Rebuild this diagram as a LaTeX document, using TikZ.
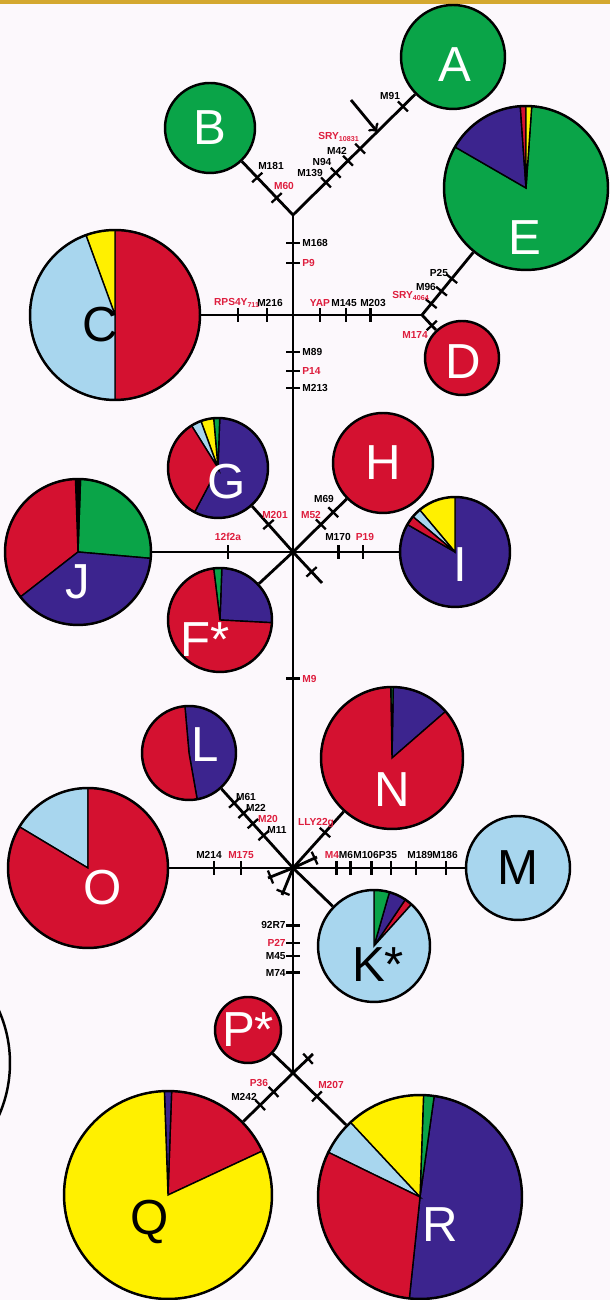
\documentclass[tikz,border=0pt]{standalone}
\usepackage{fontspec}
\setmainfont{Liberation Sans}
\usepackage{xcolor}
\usetikzlibrary{positioning, calc}

\definecolor{hgreen}{RGB}{10,164,72}
\definecolor{hred}{RGB}{212,17,48}
\definecolor{hblue}{RGB}{60,36,142}
\definecolor{hlight}{RGB}{168,214,238}
\definecolor{hyellow}{RGB}{255,240,0}
\definecolor{labred}{RGB}{222,30,62}
\definecolor{paper}{RGB}{252,248,252}
\definecolor{gold}{RGB}{212,168,48}

% pie slices: centre, radius, start/end/colour
\newcommand{\pie}[3]{%
  \foreach \sa/\ea/\cl in {#3}
    \filldraw[fill=\cl, draw=black, line width=0.8pt] (#1) -- ++(\sa:#2)
      arc[start angle=\sa, end angle=\ea, radius=#2] -- cycle;}

\begin{document}
\begin{tikzpicture}[x=0.02cm, y=0.02cm,
    branch/.style={line width=1.6pt},
    hap/.style={circle, draw, line width=1.4pt, inner sep=0pt, minimum size=#1},
    tick/.style={sloped, fill=black, inner sep=0pt, minimum width=1.3pt, minimum height=0.28cm},
    lab/.style={font=\fontsize{5.8}{6}\selectfont\bfseries, inner sep=0pt},
    rlab/.style={lab, text=labred},
    big/.style={font=\fontsize{28}{30}\selectfont, inner sep=0pt}]

  \useasboundingbox (0,0) rectangle (610,1300);
  \clip (0,0) rectangle (610,1300);
  \fill[paper] (0,0) rectangle (610,1300);
  \fill[gold] (0,1296) rectangle (610,1300);

  % haplogroups
  \node[hap=2.08cm, fill=hgreen] (A) at (453,1243) {};
  \node[hap=1.8cm, fill=hgreen] (B) at (210,1172) {};
  \pie{526,1112}{82}{150/446/hgreen, 94/150/hblue, 90/94/hred, 86/90/hyellow}
  \node[hap=3.28cm] (E) at (526,1112) {};
  \pie{115,985}{85}{-90/90/hred, 90/110/hyellow, 110/270/hlight}
  \node[hap=3.4cm] (C) at (115,985) {};
  \node[hap=1.48cm, fill=hred] (D) at (462,942) {};

  \pie{218,832}{50}{-118/88/hblue, 88/95/hgreen, 95/110/hyellow, 110/122/hlight, 122/242/hred}
  \node[hap=2cm] (G) at (218,832) {};
  \node[hap=2cm, fill=hred] (H) at (383,837) {};
  \pie{455,748}{55}{-210/90/hblue, 90/130/hyellow, 130/140/hlight, 140/150/hred}
  \node[hap=2.2cm] (I) at (455,748) {};
  \pie{78,748}{73}{-5/88/hgreen, 88/92/black, 92/218/hred, 218/355/hblue}
  \node[hap=2.92cm] (J) at (78,748) {};
  \pie{220,680}{52}{-3/88/hblue, 88/97/hgreen, 97/357/hred}
  \node[hap=2.08cm] (F) at (220,680) {};

  \pie{189,547}{47}{-80/95/hblue, 95/280/hred}
  \node[hap=1.88cm] (L) at (189,547) {};
  \pie{392,542}{71}{41/89/hblue, 89/91/hgreen, 91/401/hred}
  \node[hap=2.84cm] (N) at (392,542) {};
  \pie{88,432}{80}{90/149/hlight, 149/450/hred}
  \node[hap=3.2cm] (O) at (88,432) {};
  \node[hap=2.08cm, fill=hlight] (M) at (518,432) {};
  \pie{374,354}{56}{48/56/hred, 56/74/hblue, 74/90/hgreen, 90/408/hlight}
  \node[hap=2.24cm] (K) at (374,354) {};

  \node[hap=1.32cm, fill=hred] (P) at (248,270) {};
  \pie{168,105}{104}{25/88/hred, 88/92/hblue, 92/385/hyellow}
  \node[hap=4.16cm] (Q) at (168,105) {};
  \pie{420,103}{102}{-96/82/hblue, 82/88/hgreen, 88/133/hyellow, 133/154/hlight, 154/264/hred}
  \node[hap=4.08cm] (R) at (420,103) {};
  \node[hap=5.2cm] (S) at (-120,237) {};

  % letters
  \node[big, text=white] (At) at (455,1235) {A};
  \node[big, text=white] (Bt) at (210,1172) {B};
  \node[big, text=white] (Et) at (525,1062) {E};
  \node[big] (Ct) at (100,975) {C};
  \node[big, text=white] (Dt) at (463,938) {D};
  \node[big, text=white] (Gt) at (227,818) {G};
  \node[big, text=white] (Ht) at (383,837) {H};
  \node[big, text=white] (It) at (460,735) {I};
  \node[big, text=white] (Jt) at (78,718) {J};
  \node[big, text=white] (Ft) at (205,660) {F*};
  \node[big, text=white] (Lt) at (205,555) {L};
  \node[big, text=white] (Nt) at (392,510) {N};
  \node[big, text=white] (Ot) at (103,412) {O};
  \node[big] (Mt) at (518,432) {M};
  \node[big] (Kt) at (378,335) {K*};
  \node[big, text=white] (Pt) at (248,270) {P*};
  \node[big] (Qt) at (150,78) {Q};
  \node[big, text=white] (Rt) at (440,75) {R};

  % junctions
  \coordinate (jAB) at (293,1085);
  \coordinate (jCD) at (293,985);
  \coordinate (jDE) at (422,985);
  \coordinate (jGH) at (293,748);
  \coordinate (jLN) at (293,432);
  \coordinate (jPQ) at (293,227);
  \coordinate (sGH) at (322,717);
  \coordinate (s1) at (317,443);
  \coordinate (s2) at (268,422);
  \coordinate (s3) at (282,405);
  \coordinate (sPQ) at (313,246);
  \coordinate (arr) at (351,1200);

  % branches
  \draw[branch] (jAB) -- (A) node[tick,pos=.27]{} node[tick,pos=.35]{} node[tick,pos=.45]{}
    node[tick,pos=.55]{} coordinate[pos=.69] (tip) node[tick,pos=.90]{};
  \draw[branch,->] (arr) -- (tip);
  \draw[branch] (jAB) -- (B) node[tick,pos=.32]{} node[tick,pos=.70]{};
  \draw[branch] (jAB) -- (jCD) node[tick,pos=.28]{} node[tick,pos=.48]{};
  \draw[branch] (jCD) -- (C) node[tick,pos=.28]{} node[tick,pos=.60]{};
  \draw[branch] (jCD) -- (jDE) node[tick,pos=.21]{} node[tick,pos=.41]{} node[tick,pos=.60]{};
  \draw[branch] (jDE) -- (E) node[tick,pos=.18]{} node[tick,pos=.38]{} node[tick,pos=.58]{};
  \draw[branch] (jDE) -- (D) node[tick,pos=.7]{};
  \draw[branch] (jCD) -- (jGH) node[tick,pos=.156]{} node[tick,pos=.236]{} node[tick,pos=.308]{};

  \draw[branch] (jGH) -- (J) node[tick,pos=.46]{};
  \draw[branch] (jGH) -- (I) node[tick,pos=.43]{} node[tick,pos=.66]{};
  \draw[branch] (jGH) -- (G) node[tick,pos=.6]{};
  \draw[branch] (jGH) -- (sGH) node[tick,pos=.64]{};
  \draw[branch] (jGH) -- (H) node[tick,pos=.52]{} node[tick,pos=.75]{};
  \draw[branch] (jGH) -- (F);
  \draw[branch] (jGH) -- (jLN) node[tick,pos=.40]{};

  \draw[branch] (jLN) -- (O) node[tick,pos=.42]{} node[tick,pos=.64]{};
  \draw[branch] (jLN) -- (M) node[tick,pos=.254]{} node[tick,pos=.335]{} node[tick,pos=.457]{}
    node[tick,pos=.572]{} node[tick,pos=.717]{} node[tick,pos=.89]{};
  \draw[branch] (jLN) -- (L) node[tick,pos=.41]{} node[tick,pos=.56]{} node[tick,pos=.69]{} node[tick,pos=.82]{};
  \draw[branch] (jLN) -- (N) node[tick,pos=.63]{};
  \draw[branch] (jLN) -- (K);
  \draw[branch] (jLN) -- (s1) node[tick,pos=.9]{};
  \draw[branch] (jLN) -- (s2) node[tick,pos=.9]{};
  \draw[branch] (jLN) -- (s3) node[tick,pos=.9]{};
  \draw[branch] (jLN) -- (jPQ) node[tick,pos=.28]{} node[tick,pos=.366]{} node[tick,pos=.43]{} node[tick,pos=.51]{};

  \draw[branch] (jPQ) -- (P);
  \draw[branch] (jPQ) -- (sPQ) node[tick,pos=.75]{};
  \draw[branch] (jPQ) -- (Q) node[tick,pos=.39]{} node[tick,pos=.66]{};
  \draw[branch] (jPQ) -- (R) node[tick,pos=.45]{};

  % mutation labels
  \node[lab] (l181) at (271,1134) {M181};
  \node[rlab] (l60) at (284,1114) {M60};
  \node[lab] (l139) at (310,1127) {M139};
  \node[lab] (l94) at (322,1138) {N94};
  \node[lab] (l42) at (337,1149) {M42};
  \node[rlab] (lsry) at (339,1163) {SRY\textsubscript{10831}};
  \node[lab] (l91) at (390,1204) {M91};
  \node[lab, anchor=west] (l168) at (302,1057) {M168};
  \node[rlab, anchor=west] (lp9) at (302,1037) {P9};
  \node[rlab] (lrps) at (237,997) {RPS4Y\textsubscript{711}};
  \node[lab] (l216) at (270,997) {M216};
  \node[rlab] (lyap) at (320,997) {YAP};
  \node[lab] (l145) at (344,997) {M145};
  \node[lab] (l203) at (373,997) {M203};
  \node[rlab] (lsry2) at (411,1004) {SRY\textsubscript{4064}};
  \node[lab] (l96) at (426,1013) {M96};
  \node[lab] (lp25) at (439,1027) {P25};
  \node[rlab] (l174) at (415,965) {M174};
  \node[lab, anchor=west] (l89) at (302,948) {M89};
  \node[rlab, anchor=west] (lp14) at (302,929) {P14};
  \node[lab, anchor=west] (l213) at (302,912) {M213};
  \node[rlab] (l12f) at (228,763) {12f2a};
  \node[lab] (l170) at (338,763) {M170};
  \node[rlab] (lp19) at (365,763) {P19};
  \node[rlab] (l201) at (275,785) {M201};
  \node[rlab] (l52) at (311,785) {M52};
  \node[lab] (l69) at (324,801) {M69};
  \node[rlab, anchor=west] (l9) at (302,621) {M9};
  \node[lab] (l61) at (246,503) {M61};
  \node[lab] (l22) at (256,492) {M22};
  \node[rlab] (l20) at (268,481) {M20};
  \node[lab] (l11) at (277,470) {M11};
  \node[rlab] (llly) at (316,477) {LLY22g};
  \node[lab] (l214) at (209,445) {M214};
  \node[rlab] (l175) at (241,445) {M175};
  \node[rlab] (l4) at (332,445) {M4};
  \node[lab] (l6) at (346,445) {M6};
  \node[lab] (l106) at (366,445) {M106};
  \node[lab] (lp35) at (388,445) {P35};
  \node[lab] (l189) at (420,445) {M189};
  \node[lab] (l186) at (445,445) {M186};
  \node[lab, anchor=east] (l92) at (286,375) {92R7};
  \node[rlab, anchor=east] (lp27) at (286,357) {P27};
  \node[lab, anchor=east] (l45) at (286,344) {M45};
  \node[lab, anchor=east] (l74) at (286,327) {M74};
  \node[rlab] (lp36) at (259,217) {P36};
  \node[lab] (l242) at (244,203) {M242};
  \node[rlab] (l207) at (331,215) {M207};
\end{tikzpicture}
\end{document}
